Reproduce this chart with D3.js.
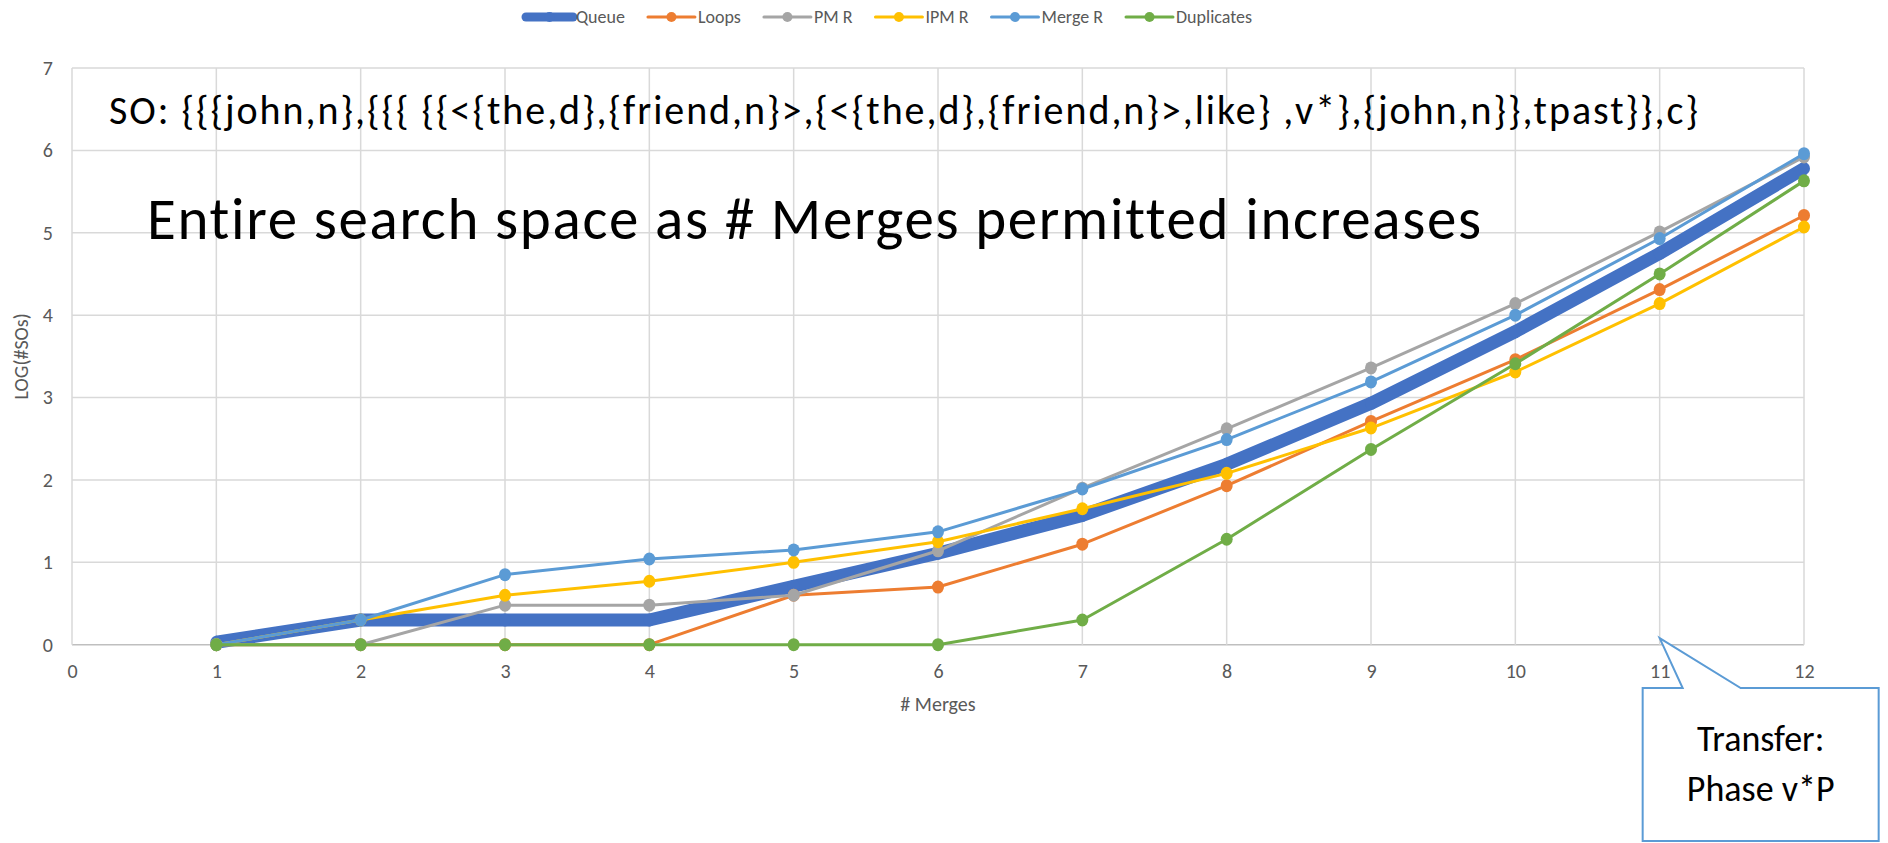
<!DOCTYPE html>
<html>
<head>
<meta charset="utf-8">
<script src="https://cdn.jsdelivr.net/npm/d3@7"></script>
<style>
  body { margin: 0; background: #fff; }
  text { font-family: Carlito, Calibri, Lato, sans-serif; font-variant-ligatures: none; }
  .axis path { display: none; }
</style>
</head>
<body>
<div id="container"></div>
<script>
const width = 1888,
  height = 843,
  margin = { top: 68, right: 84, bottom: 198.3, left: 72 };

// # merges along the x axis
const merges = [1, 2, 3, 4, 5, 6, 7, 8, 9, 10, 11, 12];
const xTicks = [0, 1, 2, 3, 4, 5, 6, 7, 8, 9, 10, 11, 12];
const yTicks = [0, 1, 2, 3, 4, 5, 6, 7];

// LOG(#SOs) per series
const queue = [0.03, 0.30, 0.30, 0.30, 0.71, 1.11, 1.57, 2.19, 2.93, 3.80, 4.75, 5.78];
const loops = [0, 0, 0, 0, 0.60, 0.70, 1.22, 1.93, 2.71, 3.46, 4.31, 5.21];
const pmR = [0, 0, 0.48, 0.48, 0.60, 1.14, 1.90, 2.62, 3.36, 4.14, 5.01, 5.92];
const ipmR = [0, 0.30, 0.60, 0.77, 1.00, 1.25, 1.65, 2.08, 2.63, 3.31, 4.14, 5.07];
const mergeR = [0, 0.30, 0.85, 1.04, 1.15, 1.37, 1.89, 2.49, 3.19, 4.00, 4.93, 5.96];
const duplicates = [0, 0, 0, 0, 0, 0, 0.30, 1.28, 2.37, 3.41, 4.50, 5.63];

const seriesNames = ["Queue", "Loops", "PM R", "IPM R", "Merge R", "Duplicates"];
const seriesValues = [queue, loops, pmR, ipmR, mergeR, duplicates];
const colors = ["#4472c4", "#ed7d31", "#a5a5a5", "#ffc000", "#5b9bd5", "#70ad47"];
const lineWidths = [13, 3, 3, 3, 3, 3];

const soText = "SO: {{{john,n},{{{ {{<{the,d},{friend,n}>,{<{the,d},{friend,n}>,like} ,v*},{john,n}},tpast}},c}";
const titleText = "Entire search space as # Merges permitted increases";
const calloutLines = ["Transfer:", "Phase v*P"];
const calloutAt = { x: 11, y: 0.08 };

const series = seriesNames.map((name, i) => ({
  name,
  color: colors[i],
  lw: lineWidths[i],
  values: merges.map((m, j) => ({ x: m, y: seriesValues[i][j] }))
}));

const svg = d3.select("#container")
  .append("svg")
  .attr("width", width)
  .attr("height", height)
  .style("display", "block");

svg.append("rect").attr("width", width).attr("height", height).attr("fill", "#fff");

// + SCALES
const xScale = d3.scaleLinear()
  .domain([0, 12])
  .range([margin.left, width - margin.right]);

const yScale = d3.scaleLinear()
  .domain([0, 7])
  .range([height - margin.bottom, margin.top]);

// + GRIDLINES
svg.append("g")
  .selectAll("line")
  .data(yTicks)
  .join("line")
  .attr("x1", xScale(0))
  .attr("x2", xScale(12))
  .attr("y1", d => yScale(d))
  .attr("y2", d => yScale(d))
  .attr("stroke", d => d === 0 ? "#bfbfbf" : "#d9d9d9")
  .attr("stroke-width", 1.5);

svg.append("g")
  .selectAll("line")
  .data(xTicks)
  .join("line")
  .attr("x1", d => xScale(d))
  .attr("x2", d => xScale(d))
  .attr("y1", yScale(0))
  .attr("y2", yScale(7))
  .attr("stroke", "#d9d9d9")
  .attr("stroke-width", 1.5);

// + AXES
const xAxisGroup = svg.append("g")
  .attr("class", "axis")
  .attr("transform", `translate(0, ${yScale(0)})`)
  .call(d3.axisBottom(xScale).tickValues(xTicks).tickFormat(d3.format("d")).tickSize(0).tickPadding(19));

const yAxisGroup = svg.append("g")
  .attr("class", "axis")
  .attr("transform", `translate(${xScale(0)}, 0)`)
  .call(d3.axisLeft(yScale).tickValues(yTicks).tickFormat(d3.format("d")).tickSize(0).tickPadding(19));

[xAxisGroup, yAxisGroup].forEach(g => g
  .attr("font-family", null)
  .attr("font-size", null)
  .selectAll("text")
  .attr("fill", "#595959")
  .style("font-size", "20px"));

svg.append("text")
  .attr("x", (xScale(0) + xScale(12)) / 2)
  .attr("y", 711)
  .attr("text-anchor", "middle")
  .attr("fill", "#595959")
  .style("font-size", "20px")
  .text("# Merges");

svg.append("text")
  .attr("transform", `translate(28, ${(yScale(0) + yScale(7)) / 2}) rotate(-90)`)
  .attr("text-anchor", "middle")
  .attr("fill", "#595959")
  .style("font-size", "20px")
  .text("LOG(#SOs)");

// + LINES
const lineGen = d3.line()
  .x(d => xScale(d.x))
  .y(d => yScale(d.y));

const sGroups = svg.selectAll(".series")
  .data(series)
  .join("g")
  .attr("class", "series");

sGroups.append("path")
  .attr("fill", "none")
  .attr("stroke", d => d.color)
  .attr("stroke-width", d => d.lw)
  .attr("stroke-linejoin", "round")
  .attr("d", d => lineGen(d.values));

sGroups.selectAll("ellipse")
  .data(d => d.values.map(v => ({ ...v, color: d.color })))
  .join("ellipse")
  .attr("cx", d => xScale(d.x))
  .attr("cy", d => yScale(d.y))
  .attr("rx", 6)
  .attr("ry", 6.5)
  .attr("fill", d => d.color);

// + LEGEND
const legend = svg.append("g").attr("transform", "translate(526, 17)");
let lx = 0;
series.forEach(s => {
  const g = legend.append("g").attr("transform", `translate(${lx}, 0)`);
  g.append("line")
    .attr("x1", 0).attr("x2", 47)
    .attr("stroke", s.color)
    .attr("stroke-width", s.lw === 3 ? 3 : 9)
    .attr("stroke-linecap", "round");
  g.append("circle").attr("cx", 23.5).attr("r", 5).attr("fill", s.color);
  const t = g.append("text")
    .attr("x", 50)
    .attr("dy", "0.35em")
    .attr("fill", "#595959")
    .style("font-size", "18px")
    .text(s.name);
  lx += 50 + t.node().getComputedTextLength() + 23;
});

// + ANNOTATION TEXT
svg.append("text")
  .attr("x", 109)
  .attr("y", 124)
  .attr("fill", "#000")
  .style("font-size", "40px")
  .attr("textLength", 1589)
  .text(soText);

svg.append("text")
  .attr("x", 147)
  .attr("y", 239)
  .attr("fill", "#000")
  .style("font-size", "59px")
  .attr("textLength", 1334)
  .text(titleText);

// + CALLOUT
const tipX = xScale(calloutAt.x), tipY = yScale(calloutAt.y);
const boxL = tipX - 17, boxR = tipX + 219, boxT = tipY + 50, boxB = tipY + 203;
svg.append("path")
  .attr("d", `M${boxL},${boxT} L${tipX + 23},${boxT} L${tipX},${tipY} L${tipX + 81},${boxT} L${boxR},${boxT} L${boxR},${boxB} L${boxL},${boxB} Z`)
  .attr("fill", "#fff")
  .attr("stroke", "#5b9bd5")
  .attr("stroke-width", 2);

svg.append("g")
  .selectAll("text")
  .data(calloutLines)
  .join("text")
  .attr("x", (boxL + boxR) / 2)
  .attr("y", (d, i) => boxT + 63 + i * 50)
  .attr("text-anchor", "middle")
  .attr("fill", "#000")
  .style("font-size", "36px")
  .text(d => d);
</script>
</body>
</html>
